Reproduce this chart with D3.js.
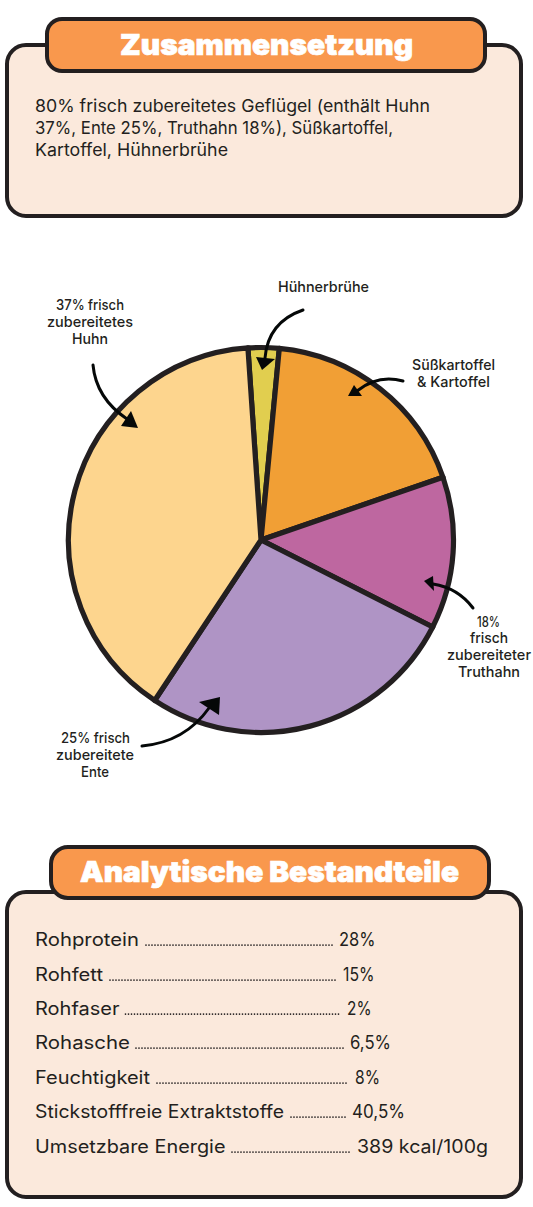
<!DOCTYPE html>
<html>
<head>
<meta charset="utf-8">
<script src="https://cdn.jsdelivr.net/npm/d3@7"></script>
<style>
html,body{margin:0;padding:0;background:#fff}
svg{display:block}
text{font-family:Inter,"Open Sans",sans-serif;fill:#231F20}
</style>
</head>
<body>
<svg id="c" width="533" height="1207"></svg>
<script>
// ---- data ----
const sliceNames = ["Hühnerbrühe","Süßkartoffel & Kartoffel","Truthahn","Ente","Huhn"];
const sliceValues = [2.6,18.2,12.75,26.85,39.6];
const sliceColors = ["#E1CE4F","#F19F35","#BE67A0","#AF94C5","#FDD58E"];
const ingredientLines = ["80% frisch zubereitetes Geflügel (enthält Huhn","37%, Ente 25%, Truthahn 18%), Süßkartoffel,","Kartoffel, Hühnerbrühe"];
const analyticNames = ["Rohprotein","Rohfett","Rohfaser","Rohasche","Feuchtigkeit","Stickstofffreie Extraktstoffe","Umsetzbare Energie"];
const analyticValues = ["28%","15%","2%","6,5%","8%","40,5%","389 kcal/100g"];

// ---- layout ----
const INK="#231F20", CARD="#FBE9DC", TAG="#F9984D", ARROW="#050808";
const svg=d3.select("#c");

function fit(g,s,x,y,w,size,weight,fill){ // text stretched to measured width, x = left edge
  return g.append("text").attr("x",x).attr("y",y).attr("font-size",size).attr("font-weight",weight||400)
    .attr("textLength",w).attr("lengthAdjust","spacingAndGlyphs").style("fill",fill||INK).text(s);
}
function box(g,x0,y0,x1,y1,r,fill,sw){
  g.append("rect").attr("x",x0).attr("y",y0).attr("width",x1-x0).attr("height",y1-y0).attr("rx",r)
   .attr("fill",fill).attr("stroke",INK).attr("stroke-width",sw);
}

// top card
const topCard=svg.append("g");
box(topCard,7,45,521,216,19,CARD,4);
box(topCard,47,19,485,71,15,TAG,4);
fit(topCard,"Zusammensetzung",120,55,293,29,900,"#fff").style("stroke","#fff").style("stroke-width",0.7);
ingredientLines.forEach((t,i)=>fit(topCard,t,35,[112,134,156][i],[395,358,193][i],17.2,400));

// pie
const cx=261, cy=540, R=192.5;
const startDeg=-3.9*Math.PI/180;
const pie=d3.pie().sort(null).value(d=>d).startAngle(startDeg).endAngle(startDeg+2*Math.PI);
const arc=d3.arc().innerRadius(0).outerRadius(R);
const pg=svg.append("g").attr("transform",`translate(${cx},${cy})`);
pg.selectAll("path").data(pie(sliceValues)).join("path")
  .attr("d",arc).attr("fill",(d,i)=>sliceColors[i])
  .attr("stroke",INK).attr("stroke-width",5.2).attr("stroke-linejoin","round");

// callout arrows: [start, control, end of shaft], head [tip, base a, base b]
const arrows=[
  {p:[[303,310],[268,322],[265,358]],h:[[262,370],[256,357],[275,359]]},
  {p:[[93,365],[96,398],[127,419]],h:[[138,428],[121,426],[131,411]]},
  {p:[[403,381],[378,374],[357,391]],h:[[348,396],[362,396],[354,385]]},
  {p:[[473,608],[458,588],[433,584]],h:[[424,581],[433,576],[434,591]]},
  {p:[[142,746],[185,742],[209,708]],h:[[220,697],[199,702],[219,715]]}
];
const ag=svg.append("g");
arrows.forEach(a=>{
  const p=d3.path();
  p.moveTo(...a.p[0]); p.quadraticCurveTo(...a.p[1],...a.p[2]);
  ag.append("path").attr("d",p.toString()).attr("fill","none").attr("stroke",ARROW).attr("stroke-width",3).attr("stroke-linecap","round");
  ag.append("path").attr("d",d3.line()(a.h)+"Z").attr("fill",ARROW);
});

// callout labels: text, left edge, baseline, width
const callouts=[
  ["37% frisch",56,310,68],["zubereitetes",47,327,86],["Huhn",72,344,36],
  ["Hühnerbrühe",278,292,91],
  ["Süßkartoffel",412,370,83],["& Kartoffel",417,387,73],
  ["18%",477,627,23],["frisch",470,643,38],["zubereiteter",447,660,84],["Truthahn",458,677,62],
  ["25% frisch",61,743,69],["zubereitete",56,760,78],["Ente",81,777,28]
];
const lg=svg.append("g");
callouts.forEach(c=>fit(lg,c[0],c[1],c[2],c[3],14.6,450));

// bottom card
const bot=svg.append("g");
box(bot,7,892,521,1197,19,CARD,4);
box(bot,51,847,489,898,17,TAG,4);
fit(bot,"Analytische Bestandteile",80,882,379,29,900,"#fff").style("stroke","#fff").style("stroke-width",0.7);
const rowY=[946,981,1015,1049,1084,1118,1153];
const nameW=[104,68,84.5,95,115,249,190.5];
const dots=[[146,334],[110,337],[125.5,341],[136,344],[157,348],[291,346],[232,351]];
const valX=[339,343,347,350,355,352,357];
const valW=[36.5,31.5,24.5,41,25,53,131];
analyticNames.forEach((n,i)=>{
  fit(bot,n,35,rowY[i],nameW[i],18.2,400);
  bot.append("line").attr("x1",dots[i][0]).attr("x2",dots[i][1]).attr("y1",rowY[i]-0.9).attr("y2",rowY[i]-0.9)
     .attr("stroke",INK).attr("stroke-width",1.7).attr("stroke-linecap","round").attr("stroke-dasharray","0 3");
  fit(bot,analyticValues[i],valX[i],rowY[i],valW[i],18.2,400);
});
</script>
</body>
</html>
